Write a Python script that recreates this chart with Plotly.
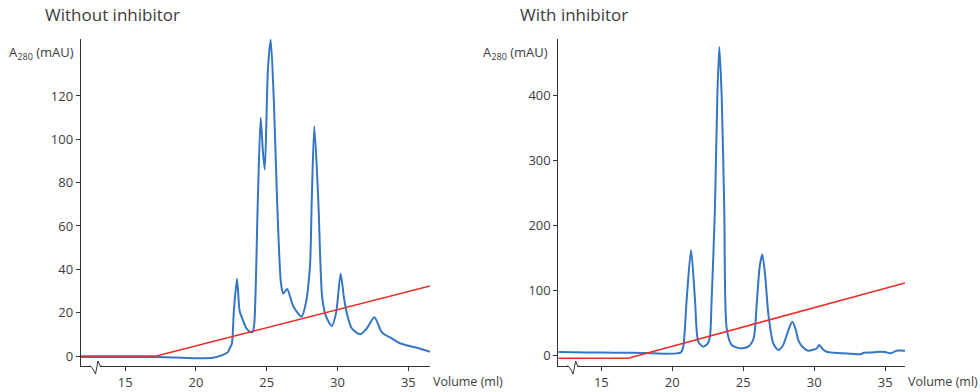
import plotly.graph_objects as go

# ---------------- data ----------------
left_vol = [11.86, 14.0, 17.0, 19.0, 20.2, 21.2, 21.9, 22.25, 22.4, 22.54, 22.68, 22.9, 23.08,
            23.25, 23.56, 23.8, 24.0, 24.12, 24.37, 24.57, 24.72, 24.86, 25.08, 25.28, 25.5,
            25.73, 26.0, 26.16, 26.44, 26.87, 27.46, 27.75, 28.05, 28.18, 28.36, 28.64, 28.92,
            29.2, 29.6, 29.9, 30.22, 30.45, 30.65, 31.0, 31.6, 32.07, 32.6, 33.1, 33.37,
            33.72, 34.4, 35.6, 36.53]
left_abs = [-0.5, -0.5, -0.5, -0.8, -1.0, -0.8, 0.5, 1.8, 3.7, 5.8, 21, 35.6, 21,
            17.6, 12.8, 11.3, 11, 15, 72, 110, 95, 86, 132, 146, 118,
            72, 33.8, 28.8, 30.9, 23, 18.2, 24, 41, 72, 106, 72, 26.7,
            18, 13.9, 20, 38, 27, 20, 12.8, 10, 12.8, 17.9, 11.2, 9.7,
            8.6, 5.9, 3.8, 2]
left_grad_vol = [11.86, 17.2, 36.53]
left_grad_abs = [0, 0, 32.3]

right_vol = [11.97, 14.0, 16.0, 18.0, 19.5, 20.3, 20.6, 20.77, 21.01, 21.32, 21.6, 21.83, 22.18,
             22.5, 22.65, 22.77, 23.0, 23.17, 23.31, 23.48, 23.66, 23.83, 24.18, 24.76, 25.35,
             25.72, 25.95, 26.15, 26.34, 26.55, 26.76, 27.11, 27.46, 27.8, 28.17, 28.45, 28.71, 28.87,
             29.2, 29.58, 29.9, 30.17, 30.35, 30.6, 30.88, 31.4, 32.04, 32.6, 33.18, 33.3, 33.48,
             34.0, 34.58, 35.0, 35.33, 35.55, 35.78, 36.39]
right_abs = [4.5, 4, 3.5, 3, 2, 2.5, 4, 12.8, 84.6, 161.5, 84.6, 20.5, 12.8,
             18, 28, 84.6, 223, 397, 474, 397, 223, 41, 15.4, 10.3, 12.8,
             25, 80, 135, 155, 120, 64, 18, 7.7, 15, 38, 51, 38, 23,
             12, 6.6, 8, 10, 15.4, 9, 5, 3.5, 2.6, 2, 1, 1.5, 3.5,
             4, 5, 4.5, 2.6, 4, 6.6, 6.6]
right_grad_vol = [11.97, 16.9, 36.39]
right_grad_abs = [-5, -5, 110.8]

x_ticks = [15, 20, 25, 30, 35]
left_y_ticks = [0, 20, 40, 60, 80, 100, 120]
right_y_ticks = [0, 100, 200, 300, 400]
titles = ["Without inhibitor", "With inhibitor"]

# ---------------- style ----------------
W, H = 980, 392
BLUE = "rgb(52,117,196)"
RED = "rgb(236,45,38)"
AX = "#333333"
TXT = "#3c3c3c"
FONT = "Open Sans"

def fx(px):
    return px / W

def fy(py):
    return 1 - py / H

fig = go.Figure()
fig.add_trace(go.Scatter(x=left_vol, y=left_abs, mode="lines", line=dict(color=BLUE, width=2, shape="spline", smoothing=0.7),
                         xaxis="x", yaxis="y", showlegend=False, hoverinfo="skip"))
fig.add_trace(go.Scatter(x=left_grad_vol, y=left_grad_abs, mode="lines", line=dict(color=RED, width=1.6),
                         xaxis="x", yaxis="y", showlegend=False, hoverinfo="skip"))
fig.add_trace(go.Scatter(x=right_vol, y=right_abs, mode="lines", line=dict(color=BLUE, width=2, shape="spline", smoothing=0.7),
                         xaxis="x2", yaxis="y2", showlegend=False, hoverinfo="skip"))
fig.add_trace(go.Scatter(x=right_grad_vol, y=right_grad_abs, mode="lines", line=dict(color=RED, width=1.6),
                         xaxis="x2", yaxis="y2", showlegend=False, hoverinfo="skip"))

ydom = [fy(366), fy(39)]
common_x = dict(showline=True, linecolor=AX, linewidth=1, ticks="outside", ticklen=4, tickcolor=AX,
                tickvals=x_ticks, showgrid=False, zeroline=False,
                tickfont=dict(family=FONT, size=13, color=TXT))
common_y = dict(showline=True, linecolor=AX, linewidth=1, ticks="outside", ticklen=4, tickcolor=AX,
                showgrid=False, zeroline=False, tickfont=dict(family=FONT, size=13, color=TXT))

fig.update_layout(
    width=W, height=H, margin=dict(l=0, r=0, t=0, b=0),
    paper_bgcolor="white", plot_bgcolor="white",
    xaxis=dict(domain=[fx(80.7), fx(430)], range=[11.86, 36.53], anchor="y", **common_x),
    yaxis=dict(domain=ydom, range=[(356 - 366) / 2.167, (356 - 39) / 2.167], anchor="x",
               tickvals=left_y_ticks, **common_y),
    xaxis2=dict(domain=[fx(558.3), fx(905)], range=[11.97, 36.39], anchor="y2", **common_x),
    yaxis2=dict(domain=ydom, range=[(355 - 366) / 0.65, (355 - 39) / 0.65], anchor="x2",
                tickvals=right_y_ticks, **common_y),
)

annos = []
for x0, t in zip([43, 518], titles):
    annos.append(dict(x=fx(x0), y=fy(15), xref="paper", yref="paper", text=t, showarrow=False,
                      xanchor="left", yanchor="middle", font=dict(family=FONT, size=17, color=TXT)))
for x0 in [7, 481]:
    annos.append(dict(x=fx(x0), y=fy(53), xref="paper", yref="paper", text="A<sub>280</sub> (mAU)",
                      showarrow=False, xanchor="left", yanchor="middle",
                      font=dict(family=FONT, size=13, color=TXT)))
for x0 in [431, 906]:
    annos.append(dict(x=fx(x0), y=fy(381.5), xref="paper", yref="paper", text="Volume (ml)",
                      showarrow=False, xanchor="left", yanchor="middle",
                      font=dict(family=FONT, size=12.5, color=TXT)))
fig.update_layout(annotations=annos)

shapes = []
for off in [0, 477.6]:
    # white gap in the axis line
    shapes.append(dict(type="line", xref="paper", yref="paper", x0=fx(91 + off), x1=fx(100 + off),
                       y0=fy(365.5), y1=fy(365.5), line=dict(color="white", width=3)))
    pts = [(90, 365.5), (93, 369), (95.5, 374), (98, 361), (100.5, 367), (101.5, 365.5)]
    path = "M " + " L ".join(f"{fx(x + off)},{fy(y)}" for x, y in pts)
    shapes.append(dict(type="path", xref="paper", yref="paper", path=path, line=dict(color=AX, width=1)))
fig.update_layout(shapes=shapes)

fig.write_html("out.html", config={"displayModeBar": False},
               post_script="document.body.style.margin='0';document.body.style.overflow='hidden';")
